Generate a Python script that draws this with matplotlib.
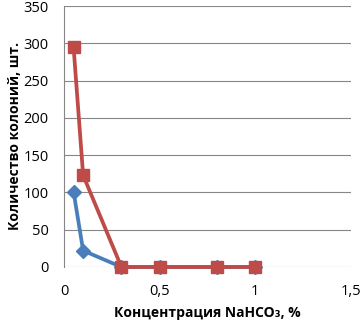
import matplotlib
matplotlib.use("Agg")
import matplotlib.pyplot as plt

# Данные
x_red = [0.05, 0.1, 0.3, 0.5, 0.8, 1.0]
y_red = [295, 123, 0, 0, 0, 0]
x_blue = [0.05, 0.1, 0.3, 0.5, 0.8, 1.0]
y_blue = [101, 22, 0, 0, 0, 0]

plt.rcParams['font.family'] = ['Open Sans', 'DejaVu Sans']

fig = plt.figure(figsize=(3.61, 3.25), dpi=100)
ax = fig.add_axes([64/361, 1 - 267/325, (351-64)/361, (267-6)/325])

ax.plot(x_blue, y_blue, color="#4A7EBB", linewidth=2.7, marker="D",
        markersize=7, clip_on=False, zorder=3)
ax.plot(x_red, y_red, color="#BE4B48", linewidth=2.7, marker="s",
        markersize=9, clip_on=False, zorder=4)

ax.set_xlim(0, 1.5)
ax.set_ylim(0, 350)
ax.set_xticks([0, 0.5, 1, 1.5])
ax.set_xticklabels(["0", "0,5", "1", "1,5"])
ax.set_yticks(range(0, 351, 50))
ax.yaxis.grid(True, color="#868686", linewidth=0.8)
ax.set_axisbelow(True)
for s in ["top", "right", "bottom"]:
    ax.spines[s].set_visible(False)
ax.spines["left"].set_color("#868686")
ax.tick_params(axis="both", length=0, labelsize=10.5)
ax.tick_params(axis="y", pad=11)
ax.tick_params(axis="x", pad=12)

ax.set_xlabel("Концентрация NaHCO₃, %", fontsize=10, fontweight="bold", labelpad=5)
ax.set_ylabel("Количество колоний, шт.", fontsize=10, fontweight="bold", labelpad=1)

fig.savefig("out.png", dpi=100)
